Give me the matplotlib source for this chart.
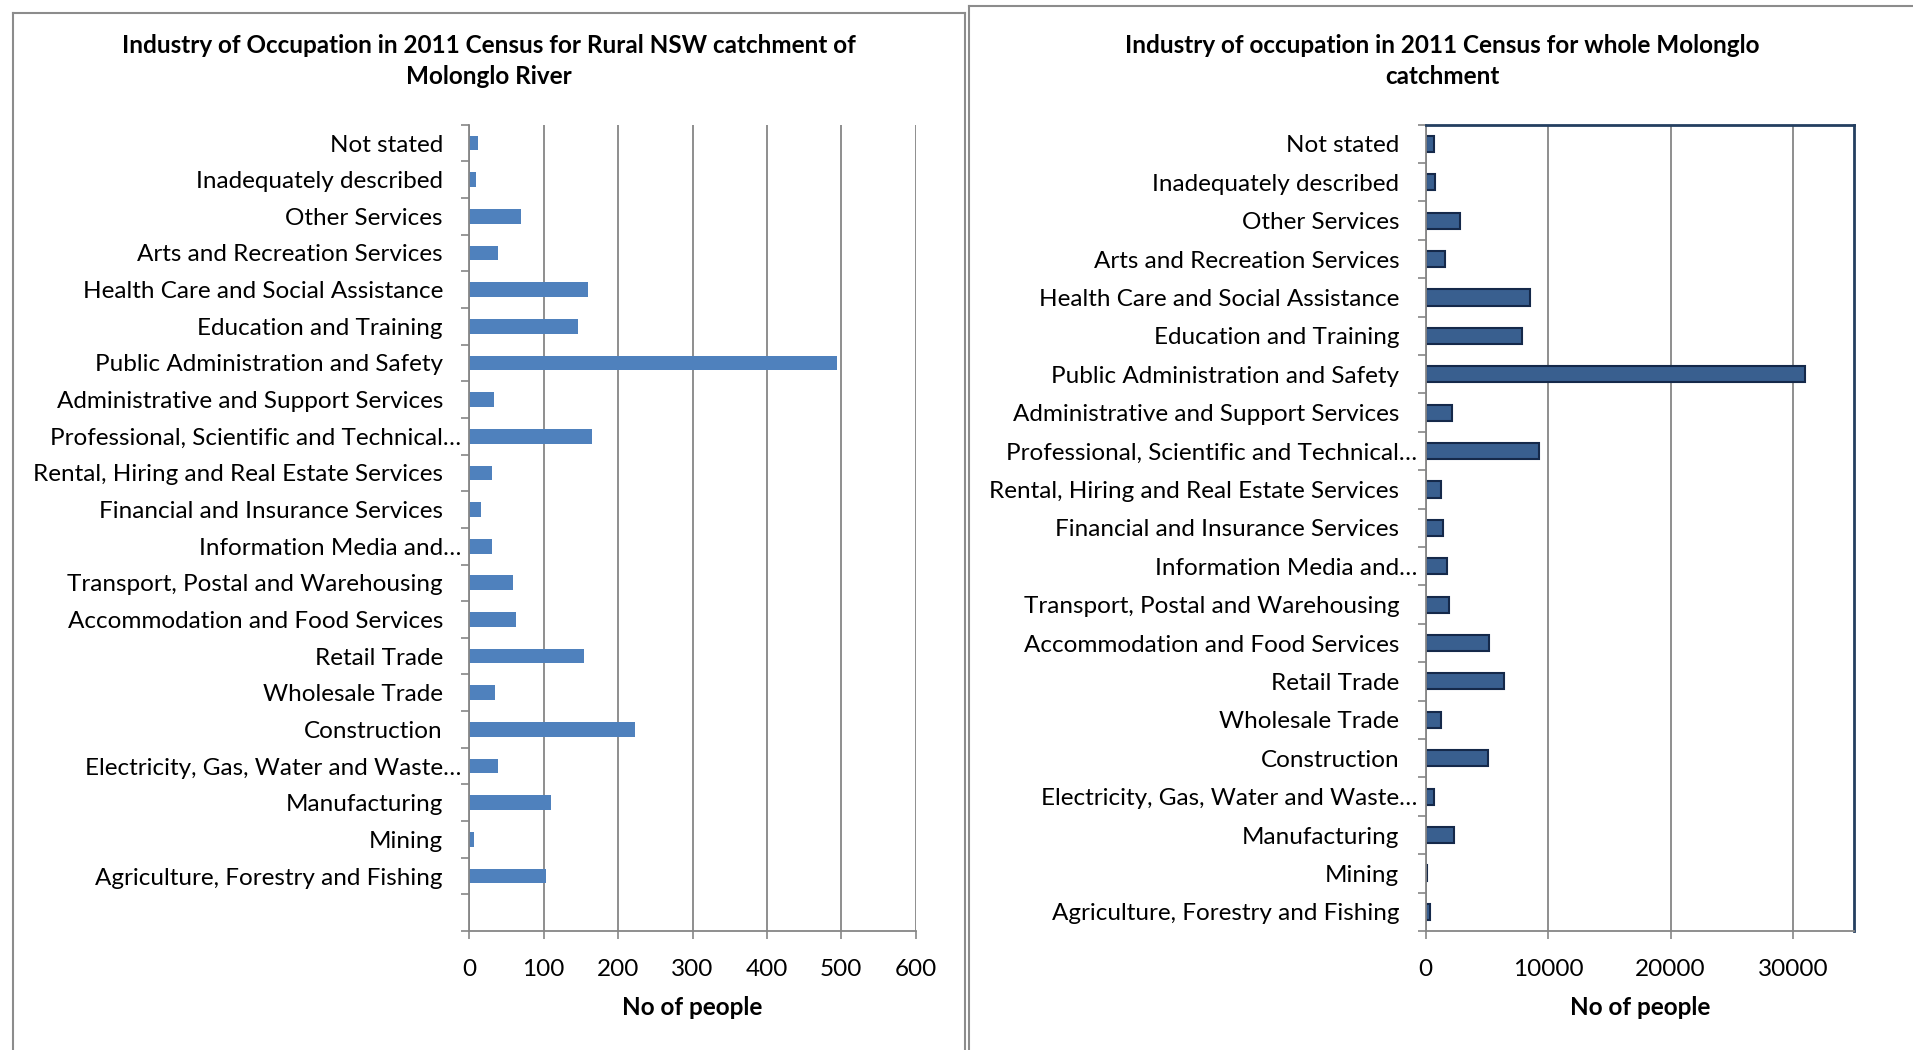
import matplotlib
matplotlib.use("Agg")
import matplotlib.pyplot as plt
from matplotlib.lines import Line2D
from matplotlib.transforms import ScaledTranslation
import numpy as np

plt.rcParams['font.family'] = ['Lato', 'DejaVu Sans']

# industries, top of chart first
industries = [
    "Not stated",
    "Inadequately described",
    "Other Services",
    "Arts and Recreation Services",
    "Health Care and Social Assistance",
    "Education and Training",
    "Public Administration and Safety",
    "Administrative and Support Services",
    "Professional, Scientific and Technical…",
    "Rental, Hiring and Real Estate Services",
    "Financial and Insurance Services",
    "Information Media and…",
    "Transport, Postal and Warehousing",
    "Accommodation and Food Services",
    "Retail Trade",
    "Wholesale Trade",
    "Construction",
    "Electricity, Gas, Water and Waste…",
    "Manufacturing",
    "Mining",
    "Agriculture, Forestry and Fishing",
]

# Rural NSW part of the catchment
rural_nsw = [12, 9, 69, 38, 159, 146, 494, 33, 165, 30, 16, 30,
             59, 63, 154, 35, 223, 38, 110, 6, 103]

# whole Molonglo catchment
whole_catchment = [650, 735, 2800, 1580, 8520, 7890, 30940, 2150, 9280, 1250,
                   1440, 1740, 1900, 5200, 6400, 1220, 5120, 710, 2310, 80, 350]

left_ticks = [0, 100, 200, 300, 400, 500, 600]
right_ticks = [0, 10000, 20000, 30000]

W, H = 1913, 1050
fig = plt.figure(figsize=(W / 100, H / 100), dpi=100)
fig.patch.set_facecolor("white")

GREY = "#868686"
FS = 17.5


def px_box(x0, x1, ytop, ybot):
    return [x0 / W, 1 - ybot / H, (x1 - x0) / W, (ybot - ytop) / H]


def style_axes(ax, n_slots_bottom):
    n = len(industries)
    ypos = np.arange(n)[::-1]
    ax.set_ylim(-0.5 - n_slots_bottom, n - 0.5)
    ax.set_yticks(ypos)
    ax.set_yticklabels(industries)
    ax.set_yticks(np.arange(-0.5 - n_slots_bottom, n), minor=True)
    ax.tick_params(axis="y", which="major", length=0, pad=19, labelsize=FS)
    ax.tick_params(axis="y", which="minor", length=6, width=1.2, color=GREY,
                   direction="out")
    ax.tick_params(axis="x", length=6, width=1.2, color=GREY, direction="out",
                   pad=14, labelsize=FS)
    ax.grid(axis="x", color=GREY, linewidth=1.3)
    ax.set_axisbelow(True)
    for s in ("left", "bottom"):
        ax.spines[s].set_color(GREY)
        ax.spines[s].set_linewidth(1.3)
    ax.set_xlabel("No of people", fontsize=FS, fontweight="bold", labelpad=12)
    # truncated labels run a little past the others
    shift = ScaledTranslation(18 / 100, 0, fig.dpi_scale_trans)
    for lab in ax.get_yticklabels():
        if lab.get_text().endswith("…"):
            lab.set_transform(lab.get_transform() + shift)
    return ypos


# left chart
axl = fig.add_axes(px_box(469.3, 915.7, 124.7, 931))
yl = style_axes(axl, 1)
axl.barh(yl, rural_nsw, height=0.4, color="#4f81bd")
axl.set_xlim(0, 600)
axl.set_xticks(left_ticks)
axl.spines["top"].set_visible(False)
axl.spines["right"].set_visible(False)

# right chart
axr = fig.add_axes(px_box(1425.7, 1854.3, 124.7, 931))
yr = style_axes(axr, 0)
axr.barh(yr, whole_catchment, height=0.42, color="#395f8f",
         edgecolor="#15294a", linewidth=1.5)
axr.set_xlim(0, 35000)
axr.set_xticks(right_ticks)
for s in ("top", "right"):
    axr.spines[s].set_color("#243f60")
    axr.spines[s].set_linewidth(2)

# titles
fig.text(489 / W, 1 - 61 / H,
         "Industry of Occupation in 2011 Census for Rural NSW catchment of\nMolonglo River",
         ha="center", va="center", fontsize=FS, fontweight="bold", linespacing=1.4)
fig.text(1442 / W, 1 - 61 / H,
         "Industry of occupation in 2011 Census for whole Molonglo\ncatchment",
         ha="center", va="center", fontsize=FS, fontweight="bold", linespacing=1.4)

# chart-area frames
def fig_line(xs, ys):
    fig.add_artist(Line2D([x / W for x in xs], [1 - y / H for y in ys],
                          color="#8c8c8c", linewidth=1.5))

fig_line([13, 13], [13, H])
fig_line([13, 965], [13, 13])
fig_line([965, 965], [13, H])
fig_line([969, 969], [6, H])
fig_line([969, W], [6, 6])

fig.savefig("out.png", dpi=100, facecolor="white")
